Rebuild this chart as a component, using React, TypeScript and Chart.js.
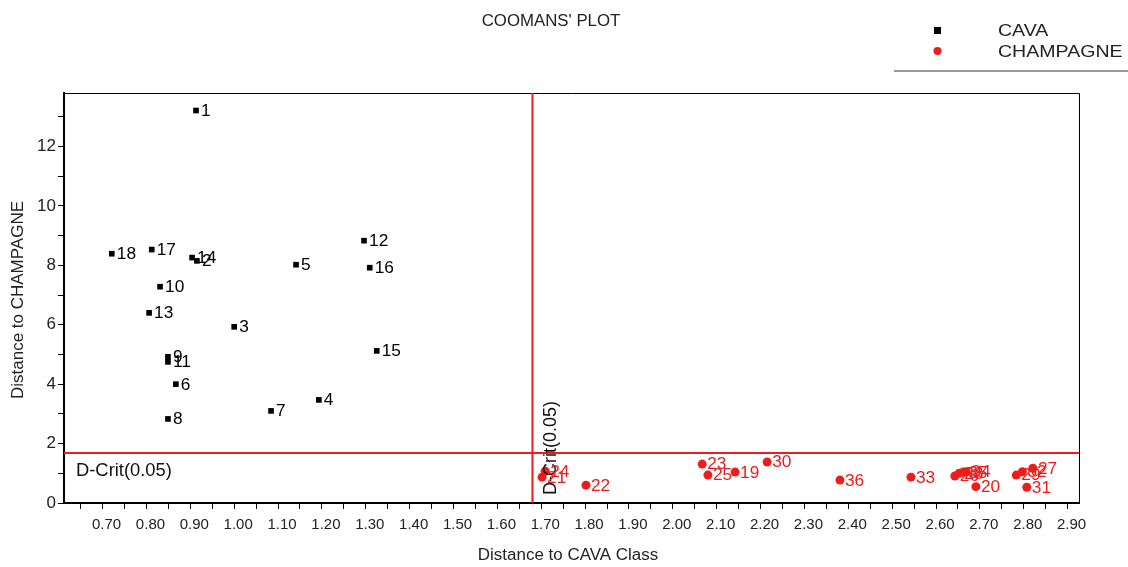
import { useEffect, useRef } from 'react';
import { Chart, registerables } from 'chart.js';

Chart.register(...registerables);

const cavaIds = [1, 2, 3, 4, 5, 6, 7, 8, 9, 10, 11, 12, 13, 14, 15, 16, 17, 18];
const cavaX = [0.913, 0.915, 1.0, 1.193, 1.141, 0.867, 1.084, 0.849, 0.849, 0.831, 0.849, 1.296, 0.806, 0.904, 1.325, 1.309, 0.812, 0.721];
const cavaY = [13.21, 8.15, 5.93, 3.47, 8.02, 4.0, 3.1, 2.83, 4.92, 7.28, 4.75, 8.83, 6.4, 8.26, 5.12, 7.92, 8.53, 8.39];

const champIds = [19, 20, 21, 22, 23, 24, 25, 26, 27, 28, 29, 30, 31, 32, 33, 34, 35, 36];
const champX = [2.142, 2.691, 1.702, 1.802, 2.067, 1.709, 2.08, 2.643, 2.821, 2.653, 2.783, 2.215, 2.807, 2.797, 2.543, 2.669, 2.662, 2.381];
const champY = [1.04, 0.55, 0.87, 0.6, 1.31, 1.07, 0.94, 0.91, 1.17, 1.0, 0.94, 1.38, 0.53, 1.05, 0.87, 1.05, 1.04, 0.77];

const xTickValues = [0.65, 0.7, 0.75, 0.8, 0.85, 0.9, 0.95, 1.0, 1.05, 1.1, 1.15, 1.2, 1.25, 1.3, 1.35, 1.4, 1.45, 1.5, 1.55, 1.6, 1.65, 1.7, 1.75, 1.8, 1.85, 1.9, 1.95, 2.0, 2.05, 2.1, 2.15, 2.2, 2.25, 2.3, 2.35, 2.4, 2.45, 2.5, 2.55, 2.6, 2.65, 2.7, 2.75, 2.8, 2.85, 2.9];
const xTickLabels = ['', '0.70', '', '0.80', '', '0.90', '', '1.00', '', '1.10', '', '1.20', '', '1.30', '', '1.40', '', '1.50', '', '1.60', '', '1.70', '', '1.80', '', '1.90', '', '2.00', '', '2.10', '', '2.20', '', '2.30', '', '2.40', '', '2.50', '', '2.60', '', '2.70', '', '2.80', '', '2.90'];
const yTickValues = [0, 1, 2, 3, 4, 5, 6, 7, 8, 9, 10, 11, 12, 13];
const yTickLabels = ['0', '', '2', '', '4', '', '6', '', '8', '', '10', '', '12', ''];

const dCrit = 1.68;
const dCritLabel = 'D-Crit(0.05)';
const titleText = "COOMANS' PLOT";
const seriesNames = ['CAVA', 'CHAMPAGNE'];
const xTitle = 'Distance to CAVA Class';
const yTitle = 'Distance to CHAMPAGNE';

const FONT = '"Liberation Sans", Arial, sans-serif';
const RED = '#ee1c1c';

function drawText(ctx: any, text: string, x: number, y: number, sx: number, align: string) {
  ctx.save();
  ctx.translate(x, y);
  ctx.scale(sx, 1);
  ctx.textAlign = align;
  ctx.textBaseline = 'middle';
  ctx.fillText(text, 0, 0);
  ctx.restore();
}

const overlayPlugin = {
  id: 'overlay',
  afterDatasetsDraw(chart: any) {
    const ctx = chart.ctx;
    const ca = chart.chartArea;
    const xs = chart.scales.x;
    const ys = chart.scales.y;
    ctx.save();

    // plot box
    ctx.strokeStyle = '#000';
    ctx.lineWidth = 1;
    ctx.beginPath();
    ctx.moveTo(ca.left, ca.top + 0.5);
    ctx.lineTo(ca.right + 0.5, ca.top + 0.5);
    ctx.lineTo(ca.right + 0.5, ca.bottom);
    ctx.stroke();

    // critical lines
    const py = ys.getPixelForValue(dCrit);
    const px = xs.getPixelForValue(dCrit);
    ctx.strokeStyle = RED;
    ctx.lineWidth = 2;
    ctx.beginPath();
    ctx.moveTo(ca.left, py);
    ctx.lineTo(ca.right, py);
    ctx.moveTo(px, ca.top);
    ctx.lineTo(px, ca.bottom);
    ctx.stroke();

    // D-Crit texts
    ctx.fillStyle = '#111';
    ctx.font = '18px ' + FONT;
    drawText(ctx, dCritLabel, ca.left + 12, py + 18, 1.02, 'left');
    ctx.save();
    ctx.translate(px + 19, ca.bottom - 8);
    ctx.rotate(-Math.PI / 2);
    ctx.textAlign = 'left';
    ctx.textBaseline = 'middle';
    ctx.fillText(dCritLabel, 0, 0);
    ctx.restore();

    // point labels
    ctx.font = '16px ' + FONT;
    const ids = [cavaIds, champIds];
    const cols = ['#000', RED];
    [0, 1].forEach((di) => {
      const meta = chart.getDatasetMeta(di);
      ctx.fillStyle = cols[di];
      meta.data.forEach((el: any, j: number) => {
        drawText(ctx, String(ids[di][j]), el.x + 5, el.y + 1, 1.08, 'left');
      });
    });

    // x tick labels
    ctx.fillStyle = '#222';
    ctx.font = '15px ' + FONT;
    xTickValues.forEach((v, i) => {
      if (!xTickLabels[i]) return;
      drawText(ctx, xTickLabels[i], xs.getPixelForValue(v) + 4, 525, 1.0, 'center');
    });

    // title
    ctx.font = '16px ' + FONT;
    drawText(ctx, titleText, 551, 22, 1.05, 'center');

    // legend
    ctx.fillStyle = '#000';
    ctx.fillRect(934, 27, 7, 7);
    ctx.fillStyle = RED;
    ctx.beginPath();
    ctx.arc(937.5, 51, 4, 0, Math.PI * 2);
    ctx.fill();
    ctx.fillStyle = '#222';
    ctx.font = '17px ' + FONT;
    drawText(ctx, seriesNames[0], 998, 31, 1.15, 'left');
    drawText(ctx, seriesNames[1], 998, 52, 1.15, 'left');
    ctx.strokeStyle = '#9a9a9a';
    ctx.lineWidth = 2;
    ctx.beginPath();
    ctx.moveTo(894, 71);
    ctx.lineTo(1128, 71);
    ctx.stroke();

    // axis titles
    ctx.fillStyle = '#222';
    ctx.font = '16px ' + FONT;
    drawText(ctx, xTitle, 568, 556, 1.06, 'center');
    ctx.font = '17px ' + FONT;
    ctx.save();
    ctx.translate(18, 300);
    ctx.rotate(-Math.PI / 2);
    ctx.textAlign = 'center';
    ctx.textBaseline = 'middle';
    ctx.fillText(yTitle, 0, 0);
    ctx.restore();

    ctx.restore();
  },
};

export default function App() {
  const ref = useRef<HTMLCanvasElement | null>(null);

  useEffect(() => {
    if (!ref.current) return;
    const chart = new Chart(ref.current, {
      type: 'scatter',
      data: {
        datasets: [
          {
            label: seriesNames[0],
            data: cavaX.map((x, i) => ({ x, y: cavaY[i] })),
            pointStyle: 'rect',
            pointRadius: 4,
            backgroundColor: '#000',
            borderColor: '#000',
            borderWidth: 0,
          },
          {
            label: seriesNames[1],
            data: champX.map((x, i) => ({ x, y: champY[i] })),
            pointStyle: 'circle',
            pointRadius: 4.5,
            backgroundColor: RED,
            borderColor: RED,
            borderWidth: 0,
          },
        ],
      },
      options: {
        responsive: false,
        animation: false,
        devicePixelRatio: 1,
        layout: { padding: { top: 93, right: 49, left: 0, bottom: 0 } },
        plugins: {
          legend: { display: false },
          title: { display: false },
          tooltip: { enabled: false },
        },
        scales: {
          x: {
            type: 'linear',
            min: 0.612,
            max: 2.926,
            afterBuildTicks: (s: any) => {
              s.ticks = xTickValues.map((v) => ({ value: v }));
            },
            afterFit: (s: any) => {
              s.height = 64;
            },
            ticks: {
              display: false,
              autoSkip: false,
              maxRotation: 0,
              minRotation: 0,
            },
            grid: {
              display: true,
              drawOnChartArea: false,
              drawTicks: true,
              tickLength: 6,
              color: '#000',
            },
            border: { display: true, color: '#000', width: 2 },
          },
          y: {
            type: 'linear',
            min: 0,
            max: 13.8,
            afterBuildTicks: (s: any) => {
              s.ticks = yTickValues.map((v) => ({ value: v }));
            },
            afterFit: (s: any) => {
              s.width = 64;
            },
            ticks: {
              autoSkip: false,
              padding: 2,
              color: '#222',
              font: { family: FONT, size: 17 },
              callback: (_v: any, i: number) => yTickLabels[i],
            },
            grid: {
              display: true,
              drawOnChartArea: false,
              drawTicks: true,
              tickLength: 6,
              color: '#000',
            },
            border: { display: true, color: '#000', width: 2 },
          },
        },
      },
      plugins: [overlayPlugin],
    } as any);
    return () => chart.destroy();
  }, []);

  return (
    <div style={{ position: 'absolute', left: 0, top: 0, width: 1128, height: 567, background: '#fff' }}>
      <canvas ref={ref} width={1128} height={567} style={{ width: 1128, height: 567, display: 'block' }} />
    </div>
  );
}
